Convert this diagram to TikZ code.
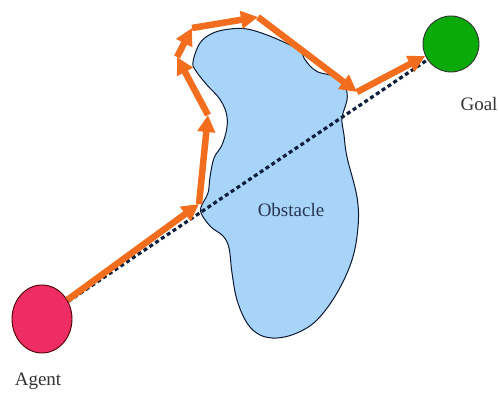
\documentclass[tikz,border=0pt]{standalone}
\usepackage{fontspec}
\setmainfont{Liberation Serif}
\usetikzlibrary{arrows.meta,shapes.geometric}
\definecolor{orng}{RGB}{242,110,30}
\definecolor{agentc}{RGB}{238,45,100}
\definecolor{goalc}{RGB}{10,170,10}
\definecolor{obst}{RGB}{168,212,250}
\definecolor{navy}{RGB}{15,30,60}
\tikzset{
  pathseg/.style={draw=orng, line width=6.5pt, -{Triangle[length=17pt,width=17pt]}},
  straight/.style={draw=navy, line width=3.2pt, dash pattern=on 4pt off 3pt},
  lbl/.style={font=\fontsize{19}{22}\selectfont, text=black!80},
}
\begin{document}
\begin{tikzpicture}[x=1pt,y=-1pt]
\useasboundingbox (0,0) rectangle (499,398);
% obstacle
\draw[fill=obst, draw=navy!80!black, line width=1pt] plot[smooth cycle, tension=0.6] coordinates {
(193,62) (200,43) (213,33) (230,29) (247,29) (267,35) (290,45) (301,52) (304,58) (310,66) (318,72) (330,75) (340,79) (346,88) (347,100) (342,118) (344,135) (347,157) (357,197) (358,227) (352,260) (337,293) (317,320) (297,333) (277,338) (260,335) (247,323) (237,300) (232,273) (229,248) (223,236) (211,227) (202,215) (201,207) (208,193) (210,177) (214,158) (222,145) (227,127) (226,112) (219,98) (207,85) (196,71)};
\node[lbl, text=navy!90] (obs) at (291,210) {Obstacle};
% agent and goal
\node[ellipse, draw=red!30!black, fill=agentc, line width=0.9pt, minimum width=60pt, minimum height=68pt, inner sep=0pt] (agent) at (42,319) {};
\node[circle, draw=black!80, fill=goalc, line width=0.9pt, minimum size=56pt, inner sep=0pt] (goal) at (451,44) {};
\node[lbl] (agentlbl) at (38,381) {Agent};
\node[lbl] (goallbl) at (479,104) {Goal};
% straight line
\draw[straight] (agent) -- (goal);
% path
\coordinate (p1) at (199,204);
\coordinate (p2) at (208,115);
\coordinate (p3) at (177,57);
\coordinate (p4) at (192,28);
\coordinate (p5) at (258,17);
\coordinate (p6) at (357,92);
\draw[pathseg] (agent.37) -- (p1);
\draw[pathseg] (p1) -- (p2);
\draw[pathseg] (p2) -- (p3);
\draw[pathseg] (p3) -- (p4);
\draw[pathseg] (p4) -- (p5);
\draw[pathseg] (p5) -- (p6);
\draw[pathseg] (p6) -- (goal.205);
\end{tikzpicture}
\end{document}
